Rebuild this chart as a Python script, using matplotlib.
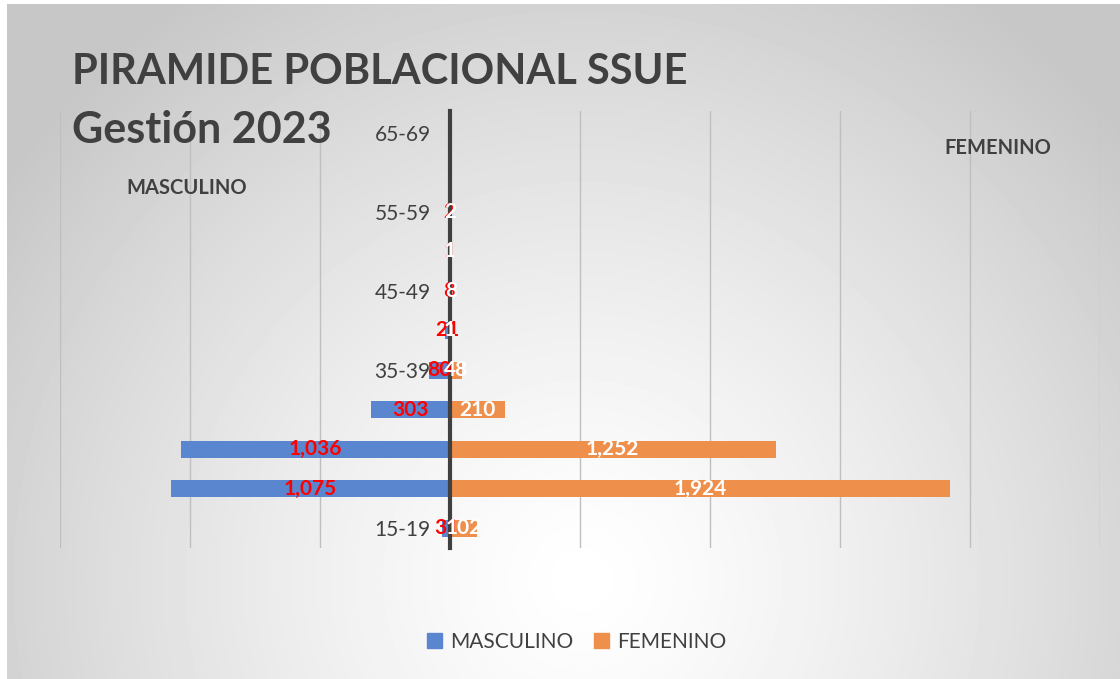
import matplotlib
matplotlib.use('Agg')
import matplotlib.pyplot as plt
from matplotlib.patches import Patch
import numpy as np

plt.rcParams['font.family'] = ['Lato', 'DejaVu Sans']

# datos
grupos = ['15-19', '20-24', '25-29', '30-34', '35-39', '40-44',
          '45-49', '50-54', '55-59', '60-64', '65-69']
masculino = [31, 1075, 1036, 303, 80, 21, 8, 1, 2, 0, 0]
femenino = [102, 1924, 1252, 210, 48, 1, 8, 1, 2, 0, 0]

azul = '#5A86D0'
naranja = '#EF8F4C'
gris = '#404040'

fig = plt.figure(figsize=(11.2, 6.79), dpi=100)

# fondo con degradado radial
bg = fig.add_axes([7/1120, 0, 1 - 7/1120, 1 - 4/679])
yy, xx = np.mgrid[0:675, 0:1113]
d = np.sqrt((xx - 575) ** 2 + (yy - 575) ** 2)
val = 1 - 0.22 * np.clip(d / 700, 0, 1) ** 1.3
bg.imshow(val, cmap='gray', vmin=0, vmax=1, aspect='auto', extent=[0, 1, 0, 1], origin='upper')
bg.axis('off')
fig.patches.append(plt.Rectangle((0, 0), 1, 1, transform=fig.transFigure,
                                 facecolor='white', zorder=-10))

ax = fig.add_axes([60/1120, 1 - 548/679, 1040/1120, 437/679])
ax.patch.set_alpha(0)

# eje vertical en x=0 (antes de configurar los ticks)
for s in ['top', 'right', 'bottom']:
    ax.spines[s].set_visible(False)
ax.spines['left'].set_position(('data', 0))
ax.spines['left'].set_color(gris)
ax.spines['left'].set_linewidth(3)

y = np.arange(len(grupos))
bm = ax.barh(y, -np.array(masculino), height=0.43, color=azul, zorder=2)
bf = ax.barh(y, femenino, height=0.43, color=naranja, zorder=2)

ax.bar_label(bm, labels=[f'{v:,}' if v else '' for v in masculino],
             label_type='center', color='red', fontweight='bold', fontsize=15)
ax.bar_label(bf, labels=[f'{v:,}' if v else '' for v in femenino],
             label_type='center', color='white', fontweight='bold', fontsize=15)

ax.set_xlim(-1500, 2500)
ax.set_ylim(-0.5, 10.55)
ax.set_xticks(np.arange(-1500, 2501, 500))
ax.set_xticklabels([])
ax.tick_params(axis='x', length=0)
ax.grid(axis='x', color='#bfbfbf', linewidth=1, zorder=0)
ax.set_axisbelow(True)

ax.set_yticks(y[::2])
ax.set_yticklabels(grupos[::2])
ax.tick_params(axis='y', length=0, pad=14, labelsize=15, labelcolor=gris)

fig.text(72/1120, 1 - 72/679, 'PIRAMIDE POBLACIONAL SSUE', fontsize=30,
         fontweight='bold', color=gris, va='center', ha='left')
fig.text(72/1120, 1 - 130/679, 'Gestión 2023', fontsize=31,
         fontweight='bold', color=gris, va='center', ha='left')
fig.text(187/1120, 1 - 188/679, 'MASCULINO', fontsize=14.5,
         fontweight='bold', color=gris, va='center', ha='center')
fig.text(998/1120, 1 - 148/679, 'FEMENINO', fontsize=14.5,
         fontweight='bold', color=gris, va='center', ha='center')

handles = [Patch(color=azul, label='MASCULINO'), Patch(color=naranja, label='FEMENINO')]
fig.legend(handles=handles, loc='center', bbox_to_anchor=(0.515, 1 - 642/679), ncol=2,
           frameon=False, fontsize=15, handlelength=0.7, handleheight=0.7,
           columnspacing=1.0, handletextpad=0.4, labelcolor=gris)

fig.savefig('out.png', dpi=100)
